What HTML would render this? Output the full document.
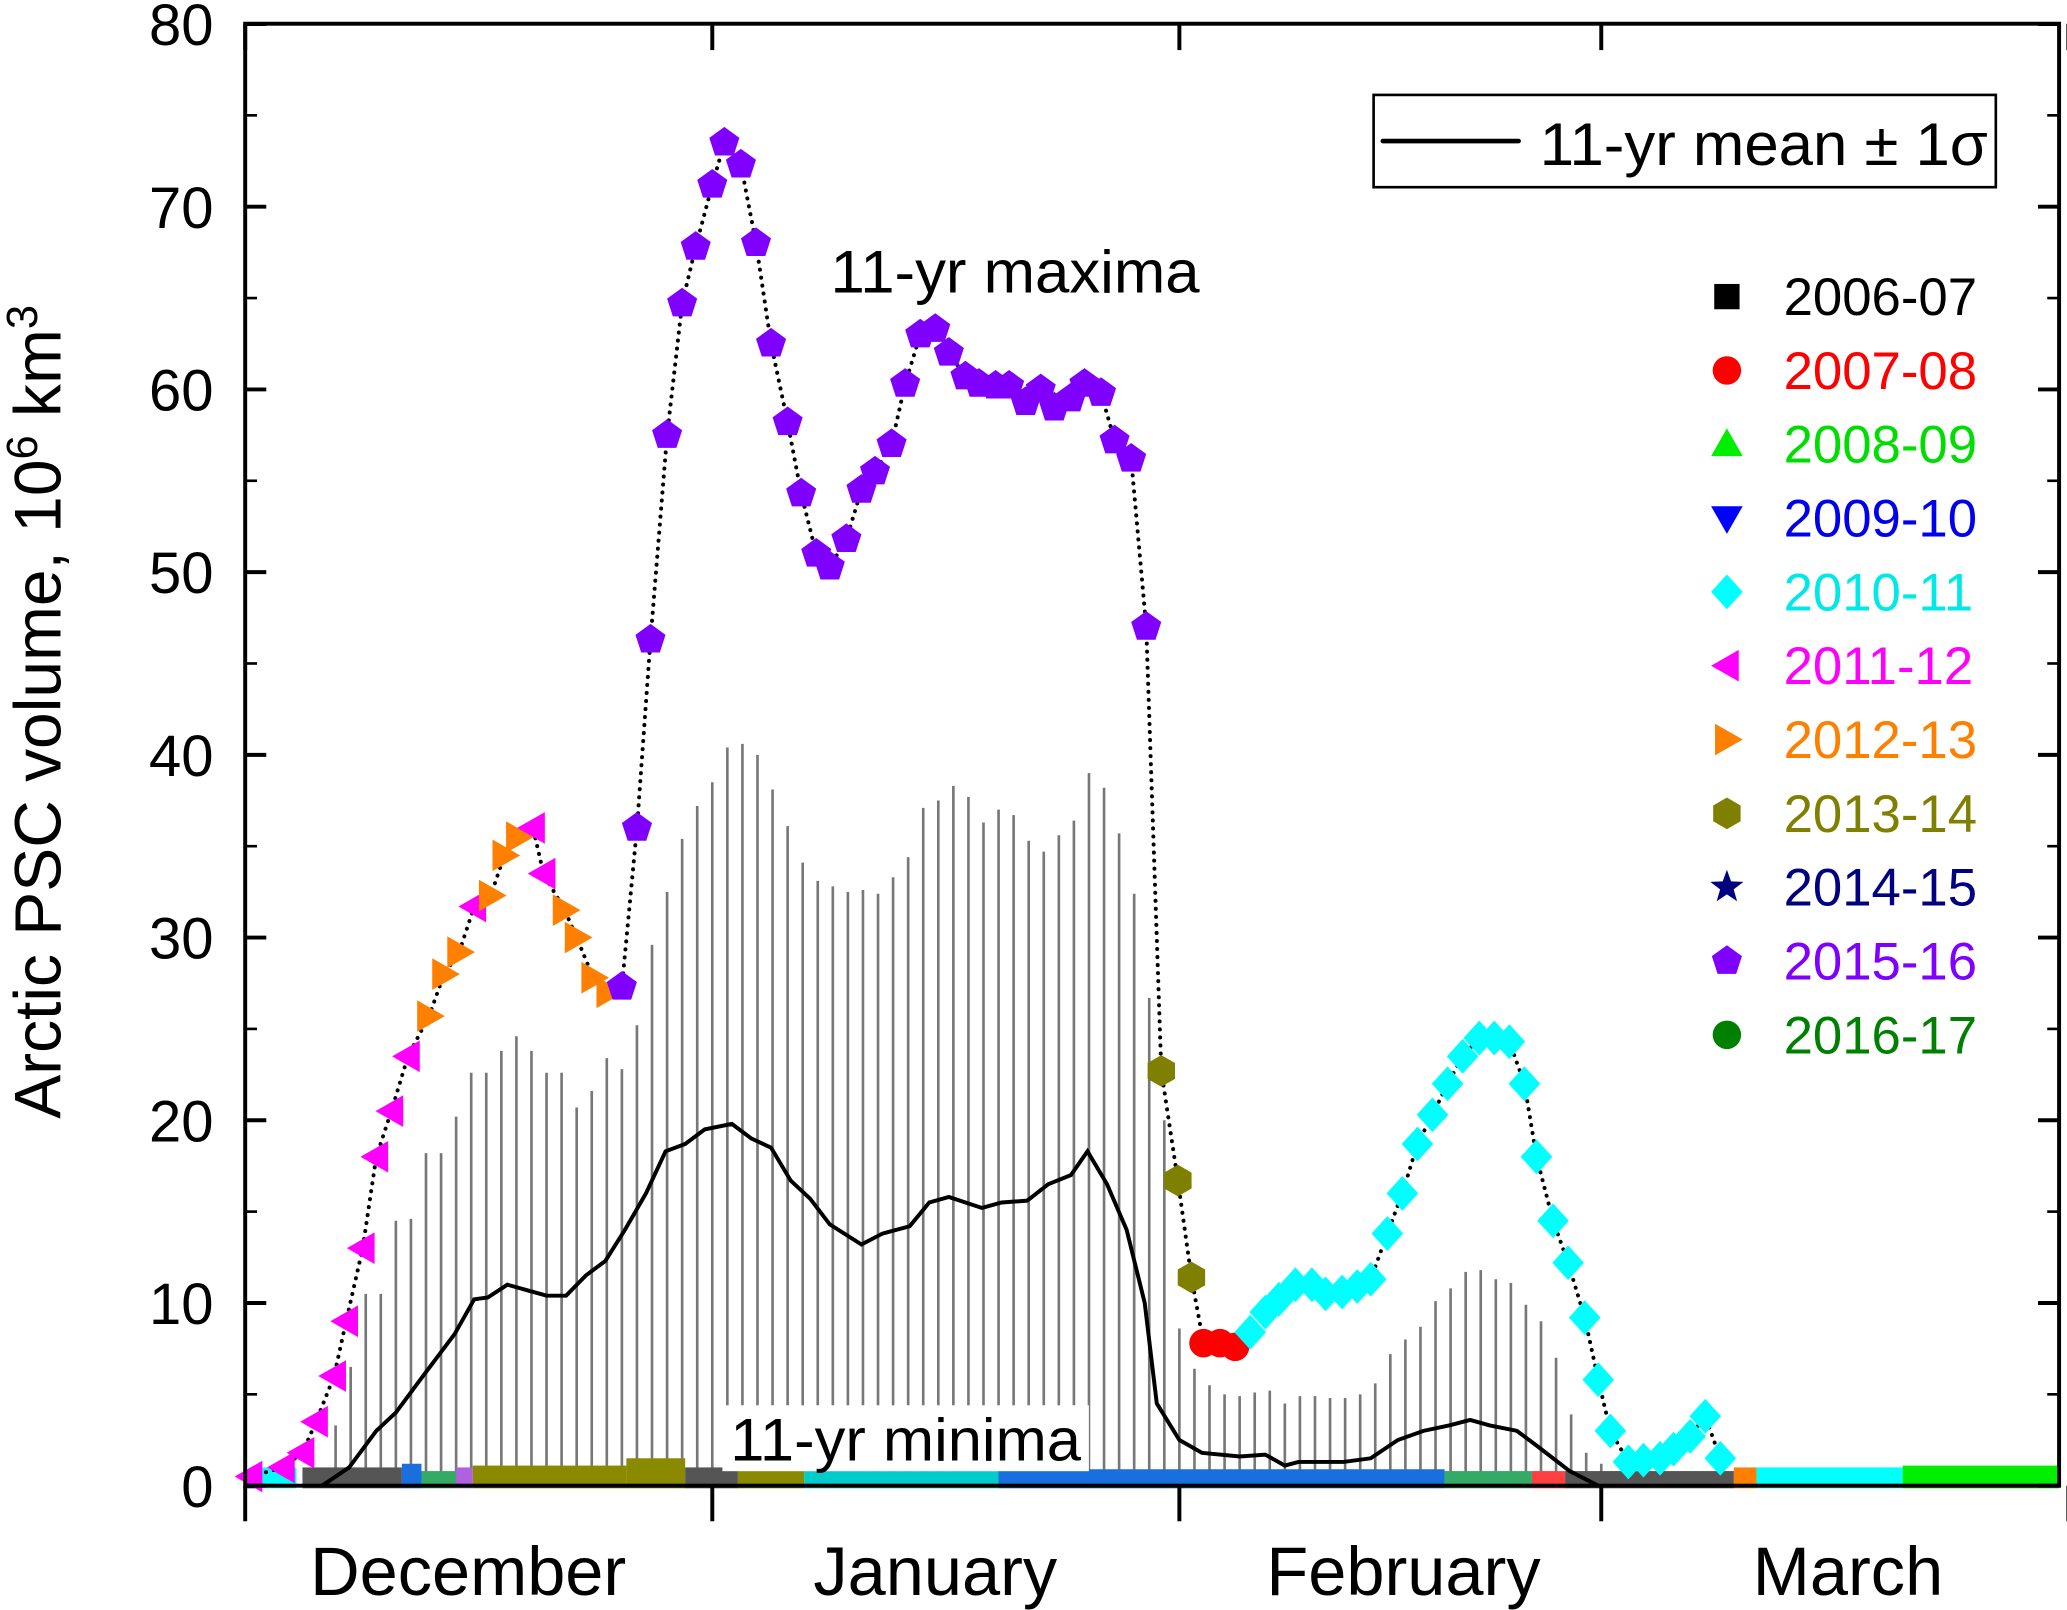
<!DOCTYPE html>
<html><head><meta charset="utf-8"><style>
html,body{margin:0;padding:0;background:#fff;}
svg{display:block;}
text{font-family:"Liberation Sans",Arial,sans-serif;}
</style></head><body>
<svg id="chart" width="2067" height="1610" viewBox="0 0 1568 1221.3" preserveAspectRatio="none" xmlns="http://www.w3.org/2000/svg">
<g id="sigma"></g>
<g id="minima"></g>
<path id="meanLine" fill="none" stroke="#000" stroke-width="3"/>
<path id="maxLine" fill="none" stroke="#000" stroke-width="3" stroke-dasharray="0.1 6" stroke-linecap="round"/>
<g id="maxima"></g>
<g>
<rect x="548" y="1066" width="278" height="50" fill="#fff"/>
<text x="554" y="1108" font-size="46" textLength="266" lengthAdjust="spacingAndGlyphs">11-yr minima</text></g>
<text x="630" y="222" font-size="46" textLength="280" lengthAdjust="spacingAndGlyphs">11-yr maxima</text>
<g id="axes"></g>
<g>
<rect x="1042" y="72" width="472" height="70" fill="#fff" stroke="#000" stroke-width="2"/>
<line x1="1049" y1="107" x2="1152" y2="107" stroke="#000" stroke-width="3.5" stroke-linecap="round"/>
<text x="1168" y="125" font-size="46" textLength="340" lengthAdjust="spacingAndGlyphs">11-yr mean ± 1σ</text></g>
<g id="legend"></g>
</svg>
<script>
const seasons=["2006-07","2007-08","2008-09","2009-10","2010-11","2011-12","2012-13","2013-14","2014-15","2015-16","2016-17"];
const seasonColors=["#000","#ff0000","#00ee00","#0000ff","#00ffff","#ff00ff","#ff8000","#808000","#000080","#8000ff","#008000"];
const seasonTextColors=["#000","#ff0000","#00dd00","#0000ee","#00e8e8","#ff00ff","#ff8000","#808000","#000080","#8000ff","#008000"];
const seasonShapes=["square","circle","up","down","diamond","left","right","hex","star","pent","ball"];
const yTicks=[0,10,20,30,40,50,60,70,80];
const months=["December","January","February","March"];
const monthStart=[0,31,62,90,121];
const maxDays=[0.35,2.5,3.8,4.7,5.9,6.7,7.8,8.7,9.7,10.8,12.2,13.2,14.2,15.2,16.3,17.2,18.1,19.1,19.8,21.2,22.0,23.1,24.1,25.0,26.0,26.9,28,29,29.9,31,31.8,32.9,33.9,34.9,36,36.9,37.9,38.8,39.9,40.9,41.8,42.9,43.8,44.8,45.8,46.7,47.8,48.7,49.8,50.7,51.8,52.8,53.7,54.8,55.7,56.8,57.7,58.8,59.8,60.8,61.9,62.8,63.6,64.7,65.7,66.7,67.7,68.6,69.7,70.8,71.7,72.8,73.8,74.7,75.8,76.8,77.8,78.8,79.8,80.8,81.9,82.9,83.9,84.9,85.7,86.8,87.8,88.9,89.8,90.6,91.8,92.8,93.9,94.8,95.9,96.9,97.9];
const maxVals=[0.5,1,1.8,3.5,6,9,13,18,20.5,23.5,25.7,28,29.2,31.7,32.3,34.5,35.5,36,33.5,31.5,30,27.8,27,27.3,36,46.3,57.5,64.7,67.8,71.2,73.5,72.3,68,62.5,58.2,54.3,51,50.3,51.8,54.5,55.5,57,60.3,63,63.3,62,60.7,60.3,60.2,60.2,59.3,60,59,59.5,60.3,59.8,57.2,56.2,47,22.7,16.7,11.4,7.8,7.8,7.6,8.4,9.5,10.2,11,11,10.5,10.6,10.9,11.3,13.8,16,18.7,20.3,22,23.5,24.5,24.5,24.3,22,18,14.5,12.2,9.2,5.8,3,1.3,1.4,1.5,2,2.7,3.8,1.5];
const maxSeason=[5,5,5,5,5,5,5,5,5,5,6,6,6,5,6,6,6,5,5,6,6,6,6,9,9,9,9,9,9,9,9,9,9,9,9,9,9,9,9,9,9,9,9,9,9,9,9,9,9,9,9,9,9,9,9,9,9,9,9,7,7,7,1,1,1,4,4,4,4,4,4,4,4,4,4,4,4,4,4,4,4,4,4,4,4,4,4,4,4,4,4,4,4,4,4,4,4];
const meanDays=[5.1,6.9,8.7,10,11.8,13.9,15.2,16.1,17.4,18.7,20,21.3,22.6,23.9,25.2,26.6,27.9,29.2,30.5,32.3,33.6,34.9,36.2,37.5,38.8,40.9,42.3,44.1,45.4,46.7,48.9,50.2,51.9,53.3,54.8,55.9,57.2,58.5,59.7,60.5,62,63.5,66,67.7,69,69.9,71.2,72.9,74.7,76.5,78.2,79.9,81.3,82.6,84.4,85.7,87.9,89.8];
const meanVals=[0,1,3,4,6,8.3,10.2,10.3,11,10.7,10.4,10.4,11.5,12.3,14,16,18.3,18.7,19.5,19.8,19,18.5,16.7,15.7,14.3,13.2,13.8,14.2,15.5,15.8,15.2,15.5,15.6,16.5,17,18.3,16.5,14,10,4.5,2.5,1.8,1.6,1.7,1.1,1.3,1.3,1.3,1.5,2.5,3,3.3,3.6,3.3,3,2.2,0.8,0];
const sigmaStartDay=6;
const sigmaUpper=[3.3,6.5,10.5,10.5,14.5,14.6,18.2,18.2,20.2,22.6,22.6,23.8,24.6,23.8,22.6,22.6,20.7,21.6,23.4,22.8,25.2,29.6,32.5,35.4,37.2,38.5,40.4,40.6,40,38.1,36.1,34.1,33.1,32.8,32.5,32.6,32.4,33.3,34.4,37.1,37.5,38.3,37.7,36.3,37,36.7,35.3,34.7,35.6,36.4,39,38.2,35.7,32.4,26.7,20,8.6,6.4,5.5,5,4.9,5.1,5.2,4.5,4.9,4.9,4.8,4.8,5,5.6,7.2,8,8.7,10.1,10.8,11.7,11.8,11.3,11.1,9.9,9,7,3.9,1.8,1.2,0.8];
const minStart=[0,0.9,3.8,10.4,11.7,14,15.1,25.3,29.2,32.7,37.1,50,79.6,85.4,87.6,98.8,100.3,110];
const minEnd=[0.9,3.4,10.4,11.7,14,15.1,25.3,29.2,32.7,37.1,50,79.6,85.4,87.6,98.8,100.3,110,120.4];
const minVals=[0.6,1,1,1.2,0.8,1,1.1,1.5,1,0.9,0.8,0.9,0.8,0.8,0.8,1,1,1.1];
const minColors=["#0000ff","#00ffff","#555","#1a6fdf","#33aa66","#b060e0","#8a8a00","#8a8a00","#555","#8a8a00","#00cccc","#1a6fdf","#33aa66","#ff4040","#555","#ff8000","#00ffff","#00ee00"];

const X0=186,PX=11.43,Y0=1127,PY=13.86,XR=1562,YT=18;
const sx=d=>X0+d*PX, sy=v=>Y0-v*PY;
const NS="http://www.w3.org/2000/svg";
function mk(tag,attrs,parent){const e=document.createElementNS(NS,tag);for(const k in attrs)e.setAttribute(k,attrs[k]);parent.appendChild(e);return e;}
function marker(shape,x,y,r,color,parent){
 let e;
 const poly=(pts)=>mk('polygon',{points:pts.map(p=>p.join(',')).join(' '),fill:color},parent);
 if(shape==='square')e=mk('rect',{x:x-r*0.8,y:y-r*0.8,width:r*1.6,height:r*1.6,fill:color},parent);
 else if(shape==='circle'||shape==='ball')e=mk('circle',{cx:x,cy:y,r:r*0.9,fill:color},parent);
 else if(shape==='up')e=poly([[x,y-r],[x+r,y+r*0.75],[x-r,y+r*0.75]]);
 else if(shape==='down')e=poly([[x,y+r],[x+r,y-r*0.75],[x-r,y-r*0.75]]);
 else if(shape==='left')e=poly([[x-r,y],[x+r*0.75,y-r],[x+r*0.75,y+r]]);
 else if(shape==='right')e=poly([[x+r,y],[x-r*0.75,y-r],[x-r*0.75,y+r]]);
 else if(shape==='diamond')e=poly([[x,y-r*1.1],[x+r,y],[x,y+r*1.1],[x-r,y]]);
 else if(shape==='hex'){const p=[];for(let i=0;i<6;i++){const a=Math.PI/6+i*Math.PI/3;p.push([x+r*Math.cos(a),y+r*Math.sin(a)]);}e=poly(p);}
 else if(shape==='pent'){const p=[];for(let i=0;i<5;i++){const a=-Math.PI/2+i*2*Math.PI/5;p.push([x+r*Math.cos(a),y+r*Math.sin(a)]);}e=poly(p);}
 else if(shape==='star'){const p=[];for(let i=0;i<10;i++){const a=-Math.PI/2+i*Math.PI/5,rr=i%2?r*0.45:r*1.1;p.push([x+rr*Math.cos(a),y+rr*Math.sin(a)]);}e=poly(p);}
 return e;
}
const sg=document.getElementById('sigma');
sigmaUpper.forEach((v,i)=>{const x=sx(sigmaStartDay+i);
 const l=mk('line',{x1:x,x2:x,y1:sy(0),y2:sy(v),stroke:'#777','stroke-width':2},sg);
 
 });
const mg=document.getElementById('minima');
minStart.forEach((s,i)=>{
 const r=mk('rect',{x:sx(s),y:sy(minVals[i]),width:sx(minEnd[i])-sx(s),height:sy(0)-sy(minVals[i])+2,fill:minColors[i]},mg);
 
 });
document.getElementById('meanLine').setAttribute('d',meanDays.map((d,i)=>(i?'L':'M')+sx(d)+','+sy(meanVals[i])).join(''));
document.getElementById('maxLine').setAttribute('d',maxDays.map((d,i)=>(i?'L':'M')+sx(d)+','+sy(maxVals[i])).join(''));
const xg=document.getElementById('maxima');
maxDays.forEach((d,i)=>{const s=maxSeason[i];
 const e=marker(seasonShapes[s],sx(d),sy(maxVals[i]),12,seasonColors[s],xg);
 
 });
const ag=document.getElementById('axes');
mk('rect',{x:X0,y:YT,width:XR-X0,height:Y0-YT,fill:'none',stroke:'#000','stroke-width':3},ag);
yTicks.forEach(v=>{const y=sy(v);
 mk('line',{x1:X0,x2:X0+16,y1:y,y2:y,stroke:'#000','stroke-width':3},ag);
 mk('line',{x1:XR,x2:XR-16,y1:y,y2:y,stroke:'#000','stroke-width':3},ag);
 if(v<80){const ym=sy(v+5);
 mk('line',{x1:X0,x2:X0+9,y1:ym,y2:ym,stroke:'#000','stroke-width':2},ag);
 mk('line',{x1:XR,x2:XR-9,y1:ym,y2:ym,stroke:'#000','stroke-width':2},ag);}
 const t=mk('text',{x:X0-24,y:y+16,'font-size':44,'text-anchor':'end'},ag);t.textContent=v;
 
 });
monthStart.forEach((d,i)=>{const x=sx(d);
 mk('line',{x1:x,x2:x,y1:Y0,y2:Y0+27,stroke:'#000','stroke-width':3},ag);
 mk('line',{x1:x,x2:x,y1:YT,y2:YT+20,stroke:'#000','stroke-width':3},ag);
 if(i<months.length){const t=mk('text',{x:(sx(d)+sx(monthStart[i+1]))/2+(i<2?-8:10),y:1210,'font-size':52,'text-anchor':'middle'},ag);t.textContent=months[i];
 
 }});
const yt=mk('text',{x:0,y:0,'font-size':50,'text-anchor':'middle',transform:'translate(46,540) rotate(-90)'},ag);
yt.innerHTML='Arctic PSC volume, 10<tspan dy="-18" font-size="33">6</tspan><tspan dy="18"> km</tspan><tspan dy="-18" font-size="33">3</tspan>';


const lg=document.getElementById('legend');
seasons.forEach((s,i)=>{const y=225+i*56;
 const m=marker(seasonShapes[i],1310,y,12,seasonColors[i],lg);
 
 
 const t=mk('text',{x:1353,y:y+14,'font-size':40,fill:seasonTextColors[i]},lg);t.textContent=s;
 
 });
</script>
</body></html>
